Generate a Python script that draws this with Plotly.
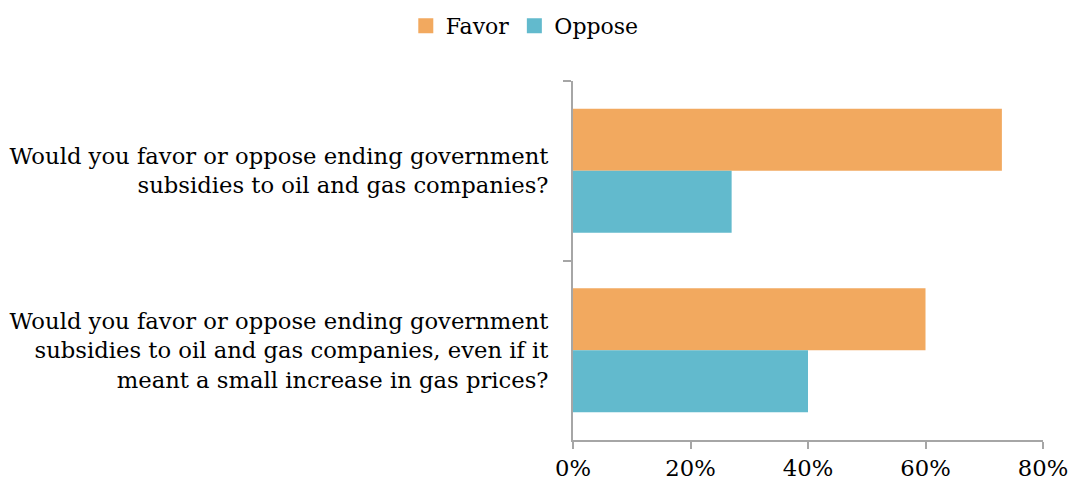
import plotly.graph_objects as go

categories = [
    "Would you favor or oppose ending government<br>subsidies to oil and gas companies?",
    "Would you favor or oppose ending government<br>subsidies to oil and gas companies, even if it<br>meant a small increase in gas prices?",
]
favor = [73, 60]
oppose = [27, 40]
tick_vals = [0, 20, 40, 60, 80]
tick_text = ["0%", "20%", "40%", "60%", "80%"]

FONT = "DejaVu Serif"
FAV = "#F2A95F"
OPP = "#62BACD"
fig = go.Figure()
fig.add_trace(go.Bar(name="Favor", y=categories, x=favor, orientation="h", showlegend=False,
                     marker=dict(color=FAV, line=dict(width=0))))
fig.add_trace(go.Bar(name="Oppose", y=categories, x=oppose, orientation="h", showlegend=False,
                     marker=dict(color=OPP, line=dict(width=0))))
# legend entries with larger square swatches
for name, col in [("Favor", FAV), ("Oppose", OPP)]:
    fig.add_trace(go.Scatter(name=name, x=[None], y=[None], mode="markers",
                             marker=dict(symbol="square", size=15, color=col)))

fig.update_layout(
    width=1071, height=487,
    barmode="group", bargap=0.31, bargroupgap=0,
    margin=dict(l=573, r=28, t=81, b=47, autoexpand=False),
    paper_bgcolor="white", plot_bgcolor="white",
    font=dict(family=FONT, size=22.7, color="black"),
    showlegend=True,
    legend=dict(orientation="h", xref="container", x=0.49, xanchor="center",
                yref="container", y=0.99, yanchor="top",
                font=dict(size=22), itemwidth=30, traceorder="normal"),
    xaxis=dict(range=[0, 80], tickvals=tick_vals, ticktext=tick_text, automargin=False,
               showgrid=False, zeroline=False, showline=True, linecolor="#A6A6A6",
               linewidth=2, ticks="outside", ticklen=7, tickwidth=2, tickcolor="#A6A6A6",
               tickfont=dict(size=22.7)),
    yaxis=dict(autorange="reversed", showgrid=False, showline=True, linecolor="#A6A6A6",
               linewidth=2, ticks="outside", ticklen=8, tickwidth=2, tickcolor="#A6A6A6",
               tickson="boundaries", ticklabelstandoff=18, automargin=False,
               tickfont=dict(size=22.7)),
)
fig.write_html("out.html", config={"displayModeBar": False},
               post_script="document.body.style.margin='0';")
